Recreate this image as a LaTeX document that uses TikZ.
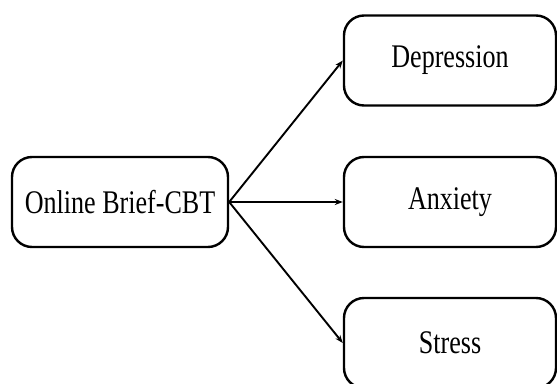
\documentclass[tikz,border=0pt]{standalone}
\usepackage{fontspec}
\setmainfont{Liberation Serif}
\newfontfamily\boxfont[FakeStretch=0.79]{Liberation Serif}
\usetikzlibrary{arrows.meta}
\begin{document}
\begin{tikzpicture}[x=1pt,y=-1pt,
  rbox/.style={draw=black, line width=2.4pt, rounded corners=20pt, fill=white,
    minimum width=#1, minimum height=90pt, inner sep=0pt,
    font=\boxfont\fontsize{33}{36}\selectfont},
  conn/.style={draw=black, line width=1.9pt, -{Stealth[length=8pt,width=6pt]}}]
\useasboundingbox (0,0) rectangle (557,383);
\clip (0,0) rectangle (557,383);
\node[rbox=216pt] (cbt) at (120,202) {Online Brief-CBT};
\node[rbox=212pt] (dep) at (450,60.5) {Depression};
\node[rbox=212pt] (anx) at (450,202) {Anxiety};
\node[rbox=212pt] (str) at (450,343) {Stress};
\draw[conn] (cbt.east) -- (dep.west);
\draw[conn] (cbt.east) -- (anx.west);
\draw[conn] (cbt.east) -- (str.west);
\end{tikzpicture}
\end{document}
